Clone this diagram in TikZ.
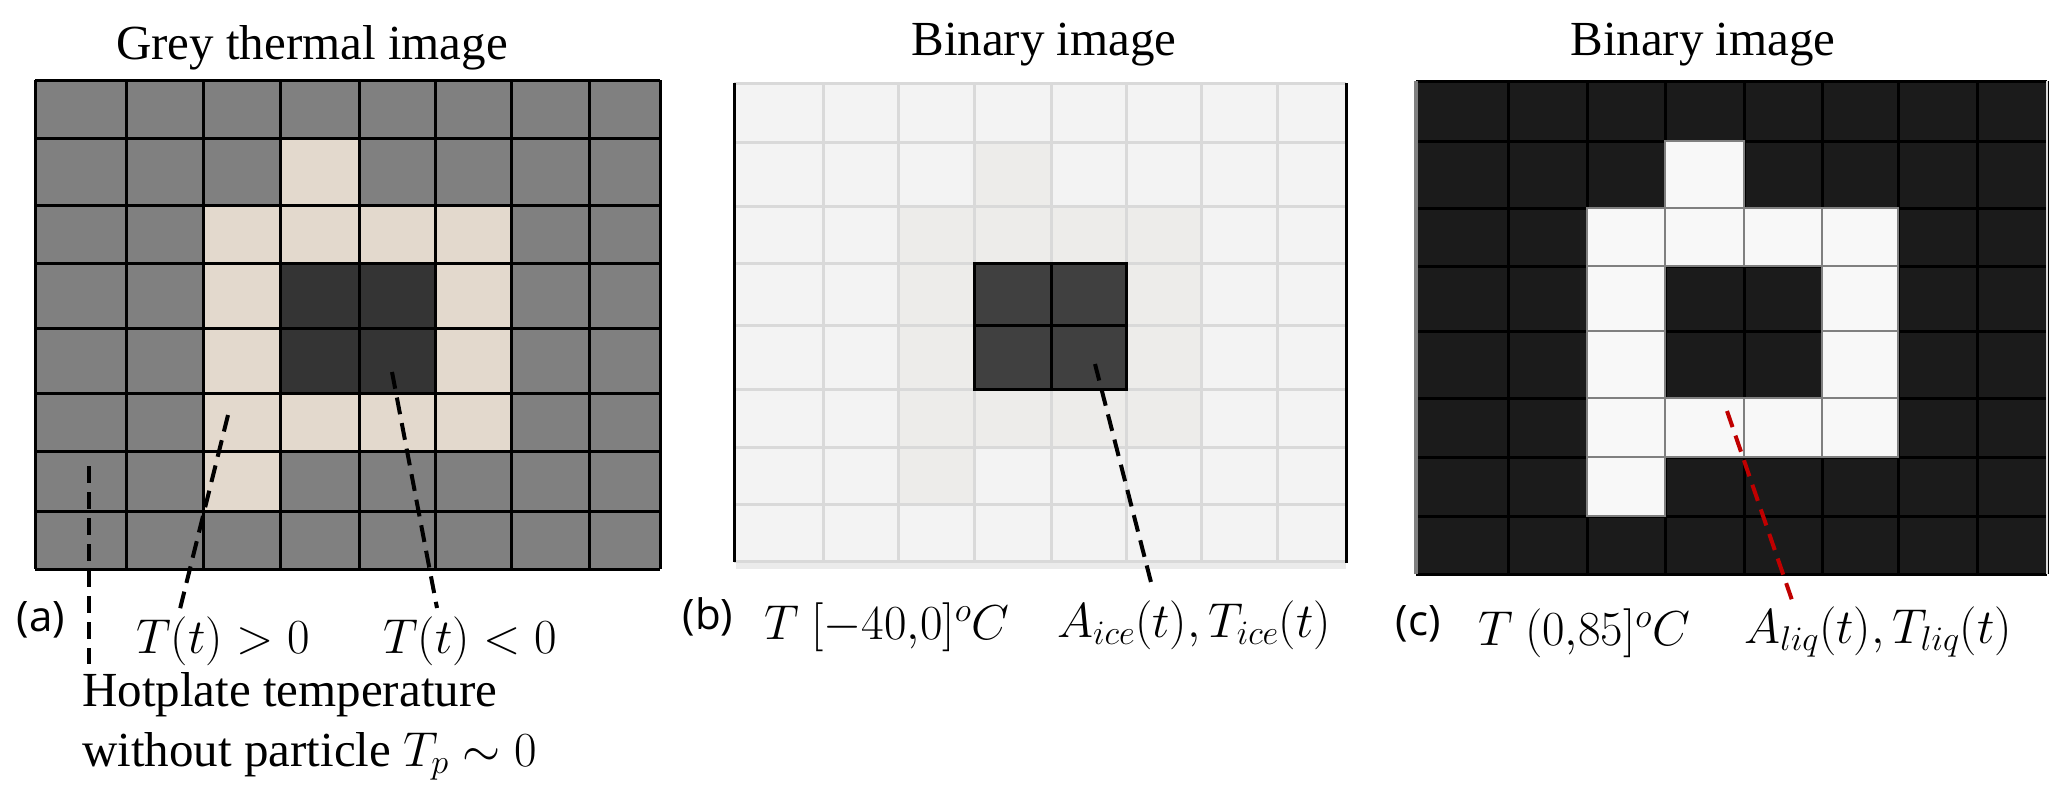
\RequirePackage{fix-cm}
\documentclass[tikz,border=0pt]{standalone}
\usepackage{fontspec}
\setmainfont{Liberation Serif}
\newfontfamily\tnr{Liberation Serif}
\newfontfamily\labfont{Open Sans}
\definecolor{greyA}{HTML}{808080}
\definecolor{beigeA}{HTML}{E3D9CD}
\definecolor{darkA}{HTML}{343434}
\definecolor{bgB}{HTML}{F3F3F3}
\definecolor{ringB}{HTML}{EDECEA}
\definecolor{lineB}{HTML}{D9D9D9}
\definecolor{darkB}{HTML}{404040}
\definecolor{blackC}{HTML}{1B1B1B}
\definecolor{whiteC}{HTML}{F8F8F8}
\definecolor{leadred}{HTML}{C00000}
\newcommand\cellrect[5]{%
  \pgfmathsetmacro\xl{#1[#3]}\pgfmathsetmacro\xr{#1[#3+1]}%
  \pgfmathsetmacro\yt{#2[#4]}\pgfmathsetmacro\yb{#2[#4+1]}%
  \path[#5] (\xl,\yt) rectangle (\xr,\yb);}
\newcommand\gridlines[3]{%
  \pgfmathsetmacro\gxl{#1[0]}\pgfmathsetmacro\gxr{#1[8]}%
  \pgfmathsetmacro\gyt{#2[0]}\pgfmathsetmacro\gyb{#2[8]}%
  \foreach \i in {0,...,8}{%
    \pgfmathsetmacro\gx{#1[\i]}\pgfmathsetmacro\gy{#2[\i]}%
    \draw[#3] (\gx,\gyt) -- (\gx,\gyb);
    \draw[#3] (\gxl,\gy) -- (\gxr,\gy);}}
\def\AX{{35,126,203,280,359,435,511,589,660}}
\def\AY{{80,138,205,263,328,393,451,511,569}}
\def\BX{{734,823,898,974,1051,1126,1201,1277,1346}}
\def\BY{{83,142,206,263,325,389,447,504,561}}
\def\CX{{1416,1508,1587,1665,1744,1822,1898,1977,2047}}
\def\CY{{81,141,208,266,331,398,457,516,574}}
\def\ring{1/3,2/2,2/3,2/4,2/5,3/2,3/5,4/2,4/5,5/2,5/3,5/4,5/5,6/2}
\def\core{3/3,3/4,4/3,4/4}
\tikzset{
  ttl/.style={font=\tnr\fontsize{49}{55}\selectfont, inner sep=0pt, anchor=base},
  lbl/.style={font=\tnr\fontsize{49}{55}\selectfont, inner sep=0pt, anchor=base},
  plab/.style={font=\labfont\fontsize{42}{46}\selectfont, inner sep=0pt, anchor=base},
  leader/.style={line width=4pt, dash pattern=on 17pt off 9pt},
}
\begin{document}
\begin{tikzpicture}[x=1pt,y=-1pt]
\useasboundingbox[fill=white] (0,0) rectangle (2067,801);
% ---------- panel (a)
\fill[greyA] (35,80) rectangle (660,569);
\foreach \r/\c in \ring {\cellrect\AX\AY{\c}{\r}{fill=beigeA}}
\foreach \r/\c in \core {\cellrect\AX\AY{\c}{\r}{fill=darkA}}
\gridlines\AX\AY{line width=3pt, black}
% ---------- panel (b)
\fill[bgB] (734,83) rectangle (1346,561);
\foreach \r/\c in \ring {\cellrect\BX\BY{\c}{\r}{fill=ringB}}
\gridlines\BX\BY{line width=3pt, lineB}
\draw[line width=6pt, black!8] (736,566) -- (1346,566);
\foreach \r/\c in \core {\cellrect\BX\BY{\c}{\r}{fill=darkB, draw=black, line width=3pt}}
\draw[line width=3pt] (734,83) -- (734,562) (1346,83) -- (1346,563);
% ---------- panel (c)
\fill[blackC] (1416,81) rectangle (2047,574);
\gridlines\CX\CY{line width=3pt, black}
\foreach \r/\c in \ring {\cellrect\CX\CY{\c}{\r}{fill=whiteC, draw=gray, line width=2.5pt}}
\draw[line width=4pt, gray] (1416,81) -- (1416,574);
\draw[line width=2pt, white!85!black] (2047,81) -- (2047,574);
% ---------- titles
\node[ttl] (ta) at (312,59) {Grey thermal image};
\node[ttl] (tb) at (1044,55) {Binary image};
\node[ttl] (tc) at (1703,55) {Binary image};
% ---------- panel labels
\node[plab] (la) at (41,631) {(a)};
\node[plab] (lb) at (708,629) {(b)};
\node[plab] (lc) at (1418,635) {(c)};
% ---------- texts
\node[lbl] (pos) at (223,653) {$T(t)>0$};
\node[lbl] (neg) at (470,653) {$T(t)<0$};
\node[lbl, anchor=base west] (hot1) at (82,706) {Hotplate temperature};
\node[lbl, anchor=base west] (hot2) at (82,766) {without particle $T_p\sim 0$};
\node[lbl] (rb) at (887,639) {$T\ [-40{,}0]^oC$};
\node[lbl] (ice) at (1194,637) {$A_{ice}(t),T_{ice}(t)$};
\node[lbl] (rc) at (1584,645) {$T\ (0{,}85]^oC$};
\node[lbl] (liq) at (1878,643) {$A_{liq}(t),T_{liq}(t)$};
% ---------- leaders
\coordinate (a1s) at (89,466);  \coordinate (a1e) at (89,664);
\coordinate (a2s) at (228,415); \coordinate (a2e) at (180,609);
\coordinate (a3s) at (392,372); \coordinate (a3e) at (437,608);
\coordinate (bs) at (1095,364); \coordinate (be) at (1153,590);
\coordinate (cs) at (1727,411); \coordinate (ce) at (1794,606);
\draw[leader] (a1s) -- (a1e);
\draw[leader] (a2s) -- (a2e);
\draw[leader] (a3s) -- (a3e);
\draw[leader] (bs) -- (be);
\draw[leader, leadred] (cs) -- (ce);
\end{tikzpicture}
\end{document}
